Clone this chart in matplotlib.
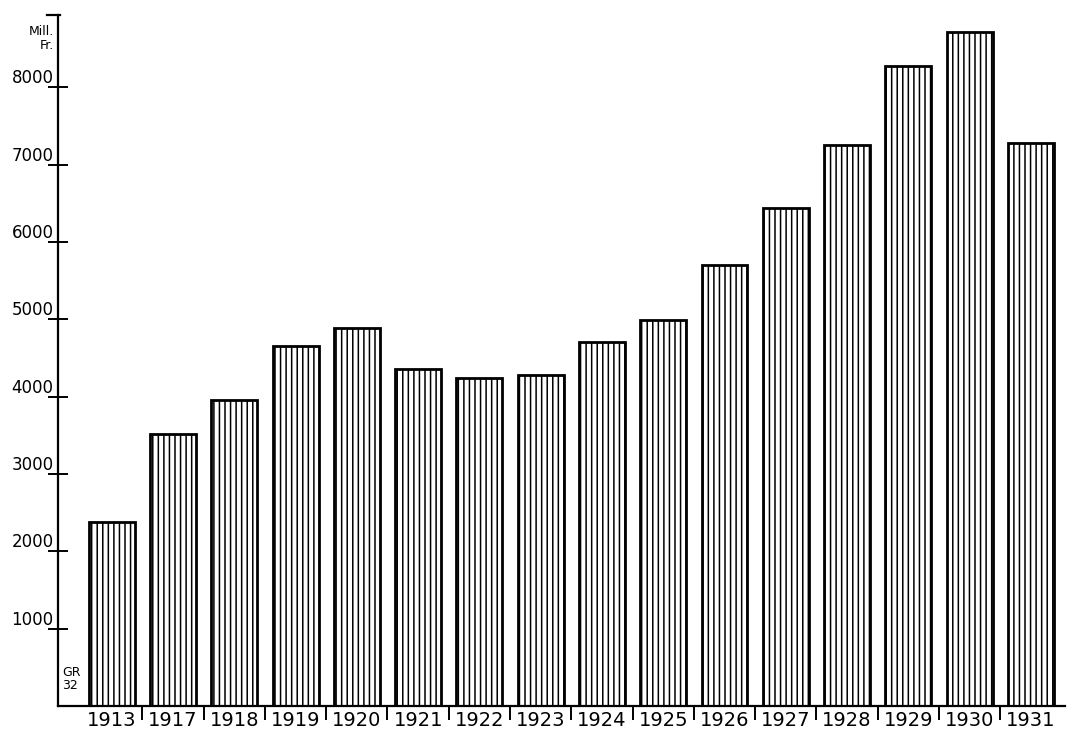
import matplotlib
matplotlib.use("Agg")
import matplotlib.pyplot as plt

# Jahre und Werte (Mill. Fr.)
years = ["1913", "1917", "1918", "1919", "1920", "1921", "1922", "1923",
         "1924", "1925", "1926", "1927", "1928", "1929", "1930", "1931"]
values = [2380, 3520, 3960, 4660, 4890, 4360, 4240, 4280,
          4710, 4990, 5700, 6440, 7260, 8270, 8720, 7280]
yticks = [1000, 2000, 3000, 4000, 5000, 6000, 7000, 8000]

plt.rcParams["hatch.linewidth"] = 1.1
plt.rcParams["font.family"] = ["DejaVu Sans"]

fig = plt.figure(figsize=(10.71, 7.33), dpi=100)
ax = fig.add_axes([0.054, 0.037, 0.940, 0.943])

x = list(range(len(years)))
ax.bar(x, values, width=0.75, color="white", edgecolor="black",
       linewidth=2.0, hatch="|||")

ax.set_xlim(-0.88, 15.55)
ax.set_ylim(0, 8940)

for s in ["top", "right"]:
    ax.spines[s].set_visible(False)
ax.spines["left"].set_linewidth(1.6)
ax.spines["bottom"].set_linewidth(1.6)

# y-Achse
ax.set_yticks(yticks)
ax.set_yticklabels([str(v) for v in yticks], fontsize=12)
ax.tick_params(axis="y", direction="inout", length=14, width=1.4, pad=-4)
for lab in ax.get_yticklabels():
    lab.set_va("bottom")

# x-Achse: Jahreszahlen unter den Balken, Trennstriche dazwischen
ax.set_xticks(x)
ax.set_xticklabels(years, fontsize=14)
ax.tick_params(axis="x", which="major", length=0, pad=4)
ax.set_xticks([i + 0.5 for i in x[:-1]], minor=True)
ax.tick_params(axis="x", which="minor", direction="out", length=10, width=1.4)

# Kappe oben an der y-Achse
ax.plot([-0.011, 0.002], [1.0, 1.0], transform=ax.transAxes,
        color="black", lw=1.6, clip_on=False)
ax.text(-0.004, 0.985, "Mill.\nFr.", transform=ax.transAxes, ha="right",
        va="top", fontsize=9, linespacing=1.1)
ax.text(0.004, 0.02, "GR\n32", transform=ax.transAxes, ha="left",
        va="bottom", fontsize=9, linespacing=1.0)

fig.savefig("out.png", dpi=100)
